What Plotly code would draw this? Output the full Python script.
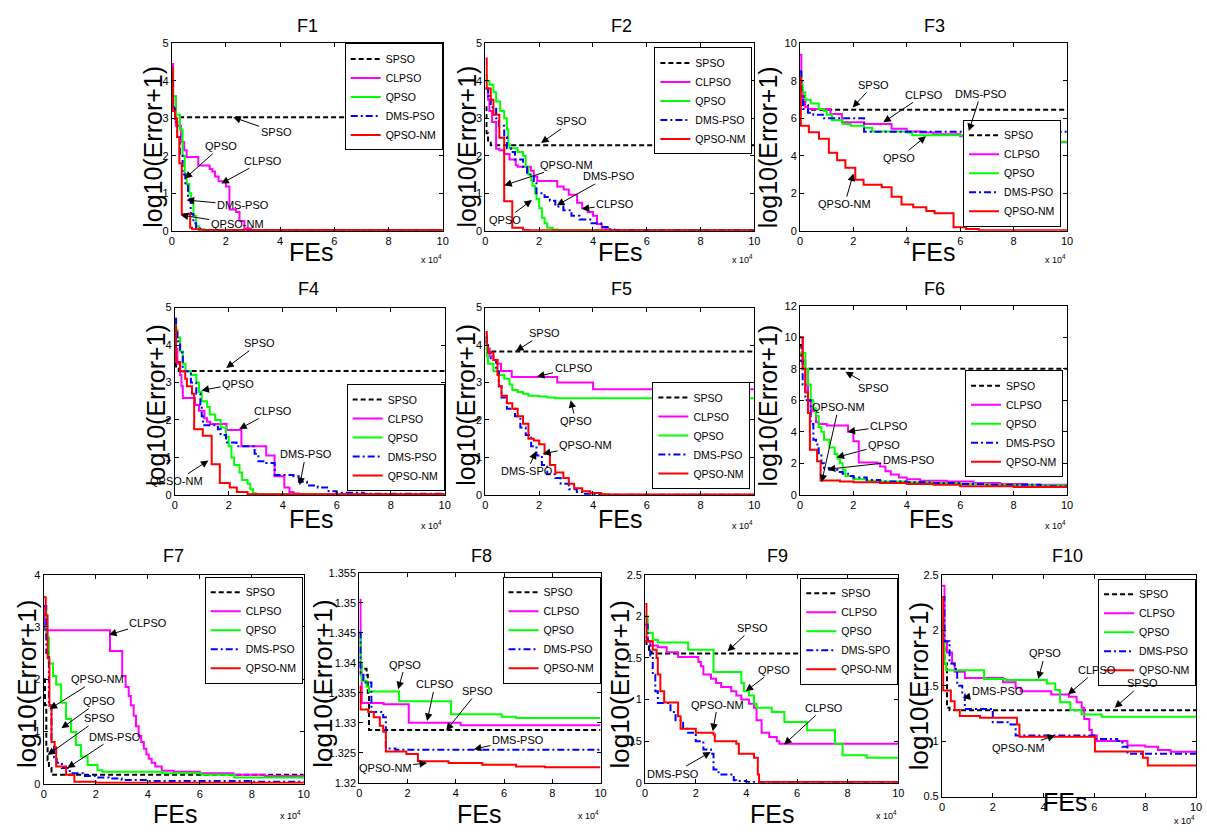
import plotly.graph_objects as go

W, H = 1207, 840
FONT = "Liberation Sans, Arial, sans-serif"

NAMES = ["SPSO", "CLPSO", "QPSO", "DMS-PSO", "QPSO-NM"]
NAMES_F9 = ["SPSO", "CLPSO", "QPSO", "DMS-SPO", "QPSO-NM"]
COLORS = ["#000000", "#FF00FF", "#00FF00", "#0000FF", "#FF0000"]
DASHES = ["5px,3px", "solid", "solid", "7px,3px,2px,3px", "solid"]

TITLES = ["F1", "F2", "F3", "F4", "F5", "F6", "F7", "F8", "F9", "F10"]
Y_RANGES = [[0, 5], [0, 5], [0, 10], [0, 5], [0, 5], [0, 12], [0, 4], [1.32, 1.355], [0, 2.5], [0.5, 2.5]]
Y_DTICKS = [1, 1, 2, 1, 1, 2, 1, 0.005, 0.5, 0.5]
X_TICKS = [0, 2, 4, 6, 8, 10]

# ---------------- data (x in units of 1e4 FEs, y = log10(Error+1)) ----------------
F1_SPSO_X = [0, 0.05, 0.12, 10]
F1_SPSO_Y = [3.9, 3.3, 3.03, 3.03]
F1_CLPSO_X = [0, 0.05, 0.15, 0.34, 0.46, 0.55, 0.98, 1.4, 1.5, 1.6, 1.73, 2.0, 2.13, 2.38, 2.5, 2.68, 2.93, 3.1, 10]
F1_CLPSO_Y = [4.45, 3.6, 2.8, 2.37, 2.15, 1.97, 1.74, 1.65, 1.58, 1.45, 1.32, 1.18, 0.57, 0.5, 0.26, 0.06, 0.02, 0.01, 0.01]
F1_QPSO_X = [0, 0.05, 0.15, 0.3, 0.4, 0.48, 0.55, 0.65, 0.72, 0.8, 0.9, 1.0, 1.2, 10]
F1_QPSO_Y = [4.3, 3.6, 3.1, 2.7, 2.0, 1.5, 1.25, 1.0, 0.75, 0.4, 0.12, 0.04, 0.01, 0.01]
F1_DMS_X = [0, 0.05, 0.12, 0.2, 0.3, 0.4, 0.5, 0.6, 0.7, 0.8, 0.9, 1.1, 10]
F1_DMS_Y = [4.0, 3.3, 2.9, 2.5, 2.0, 1.5, 1.2, 0.85, 0.45, 0.2, 0.06, 0.02, 0.01]
F1_NM_X = [0, 0.04, 0.12, 0.2, 0.28, 0.37, 0.68, 0.75, 1.0, 10]
F1_NM_Y = [4.35, 3.2, 3.0, 2.5, 1.8, 0.45, 0.08, 0.04, 0.02, 0.01]

F2_SPSO_X = [0, 0.04, 0.1, 0.2, 10]
F2_SPSO_Y = [3.3, 2.6, 2.35, 2.28, 2.28]
F2_CLPSO_X = [0, 0.1, 0.15, 0.25, 0.4, 0.52, 0.7, 0.9, 1.13, 1.2, 1.69, 1.8, 1.93, 2.67, 2.91, 3.1, 3.41, 3.6, 3.8, 4.0, 4.15, 4.33, 4.5, 4.65, 10]
F2_CLPSO_Y = [3.8, 3.5, 3.2, 2.9, 2.19, 2.15, 2.05, 1.9, 1.75, 1.71, 1.6, 1.45, 1.33, 1.18, 1.1, 0.96, 0.75, 0.61, 0.5, 0.4, 0.18, 0.08, 0.04, 0.01, 0.01]
F2_QPSO_X = [0, 0.05, 0.15, 0.3, 0.4, 0.55, 0.7, 0.8, 0.85, 0.9, 1.2, 1.4, 1.5, 1.6, 1.7, 1.75, 1.85, 1.9, 2.0, 2.1, 2.2, 2.3, 2.5, 2.7, 10]
F2_QPSO_Y = [4.15, 4.0, 3.9, 3.7, 3.45, 3.2, 3.0, 2.7, 2.3, 2.2, 2.1, 2.0, 1.7, 1.5, 1.35, 1.2, 1.0, 0.85, 0.6, 0.35, 0.2, 0.08, 0.03, 0.01, 0.01]
F2_DMS_X = [0, 0.1, 0.2, 0.4, 0.5, 0.7, 0.8, 0.95, 1.1, 1.4, 1.55, 1.8, 1.9, 2.2, 2.4, 2.6, 2.9, 3.2, 3.5, 3.9, 4.3, 4.6, 4.8, 10]
F2_DMS_Y = [3.8, 3.6, 3.3, 3.0, 2.8, 2.5, 2.2, 2.1, 1.9, 1.7, 1.5, 1.3, 1.0, 0.9, 0.8, 0.65, 0.55, 0.4, 0.3, 0.2, 0.1, 0.03, 0.01, 0.01]
F2_NM_X = [0, 0.05, 0.2, 0.3, 0.52, 0.7, 1.0, 1.4, 1.6, 10]
F2_NM_Y = [4.6, 3.8, 3.5, 3.1, 2.48, 0.79, 0.08, 0.02, 0.01, 0.01]

F3_SPSO_X = [0, 0.05, 0.15, 0.3, 10]
F3_SPSO_Y = [8.0, 7.2, 6.7, 6.46, 6.46]
F3_CLPSO_X = [0, 0.05, 0.1, 0.2, 0.3, 1.14, 1.57, 2.4, 3.43, 4.0, 4.5, 5.0, 6.0, 7.0, 8.0, 8.5, 9.0, 10]
F3_CLPSO_Y = [9.4, 7.5, 7.0, 6.6, 6.5, 6.23, 5.79, 5.7, 5.45, 5.3, 5.25, 5.15, 5.05, 4.97, 4.9, 4.8, 4.73, 4.7]
F3_QPSO_X = [0, 0.05, 0.1, 0.2, 0.4, 0.7, 0.9, 1.0, 1.2, 1.6, 1.9, 2.4, 2.7, 4.0, 4.2, 7.0, 7.5, 8.0, 8.5, 9.0, 10]
F3_QPSO_Y = [8.3, 7.8, 7.4, 7.0, 6.8, 6.5, 6.4, 6.2, 5.9, 5.7, 5.6, 5.5, 5.3, 5.25, 5.1, 5.05, 5.0, 4.95, 4.85, 4.75, 4.7]
F3_DMS_X = [0, 0.05, 0.1, 0.3, 0.5, 0.9, 2.4, 10]
F3_DMS_Y = [8.5, 7.0, 6.5, 6.3, 6.2, 6.0, 5.28, 5.28]
F3_NM_X = [0, 0.03, 0.33, 0.71, 1.08, 1.39, 1.7, 2.07, 2.38, 3.06, 3.43, 3.8, 4.24, 4.73, 5.04, 5.75, 6.22, 6.7, 10]
F3_NM_Y = [8.2, 5.6, 5.26, 4.91, 4.16, 3.77, 3.37, 2.72, 2.46, 2.32, 1.81, 1.4, 1.26, 1.05, 0.93, 0.18, 0.09, 0.02, 0.02]

F4_SPSO_X = [0, 0.05, 0.15, 10]
F4_SPSO_Y = [3.5, 3.4, 3.31, 3.31]
F4_CLPSO_X = [0, 0.05, 0.1, 0.2, 0.25, 0.3, 0.75, 0.9, 1.1, 1.2, 1.31, 1.92, 2.47, 3.39, 3.7, 4.06, 4.25, 4.4, 4.6, 4.8, 10]
F4_CLPSO_Y = [4.5, 3.9, 3.5, 3.2, 2.9, 2.59, 2.4, 2.25, 2.05, 1.95, 1.89, 1.73, 1.3, 1.05, 0.5, 0.2, 0.08, 0.04, 0.02, 0.01, 0.01]
F4_QPSO_X = [0, 0.05, 0.1, 0.2, 0.3, 0.4, 0.6, 0.8, 0.9, 1.0, 1.2, 1.3, 1.5, 1.7, 1.9, 2.0, 2.1, 2.2, 2.4, 2.5, 2.7, 2.8, 2.9, 3.0, 3.2, 10]
F4_QPSO_Y = [4.7, 4.4, 4.2, 3.83, 3.5, 3.3, 3.2, 3.0, 2.75, 2.5, 2.35, 2.15, 2.0, 1.8, 1.55, 1.3, 1.0, 0.8, 0.6, 0.4, 0.3, 0.15, 0.05, 0.02, 0.01, 0.01]
F4_DMS_X = [0, 0.05, 0.1, 0.2, 0.3, 0.6, 0.8, 0.95, 1.0, 1.05, 1.6, 1.7, 1.9, 2.29, 2.96, 3.1, 3.39, 3.7, 4.4, 4.6, 4.9, 5.3, 5.7, 6.0, 7.0, 10]
F4_DMS_Y = [4.7, 4.4, 4.1, 3.8, 3.3, 3.0, 2.7, 2.4, 2.1, 1.86, 1.75, 1.6, 1.4, 1.3, 1.1, 0.9, 0.85, 0.53, 0.5, 0.35, 0.25, 0.2, 0.1, 0.06, 0.03, 0.02]
F4_NM_X = [0, 0.05, 0.2, 0.39, 0.45, 0.64, 0.72, 1.04, 1.37, 1.67, 2.04, 2.3, 2.7, 10]
F4_NM_Y = [4.5, 3.55, 3.3, 3.1, 2.9, 2.7, 1.75, 1.58, 0.82, 0.32, 0.2, 0.08, 0.02, 0.01]

F5_SPSO_X = [0, 0.05, 0.15, 10]
F5_SPSO_Y = [4.1, 3.9, 3.83, 3.83]
F5_CLPSO_X = [0, 0.05, 0.15, 0.3, 0.45, 0.58, 0.98, 2.67, 4.0, 10]
F5_CLPSO_Y = [4.3, 3.9, 3.7, 3.6, 3.5, 3.31, 3.15, 3.0, 2.82, 2.82]
F5_QPSO_X = [0, 0.05, 0.1, 0.3, 0.5, 0.7, 0.9, 1.0, 1.2, 1.4, 1.6, 2.0, 2.3, 2.6, 10]
F5_QPSO_Y = [4.2, 3.7, 3.5, 3.3, 3.2, 3.1, 2.95, 2.8, 2.75, 2.7, 2.65, 2.63, 2.6, 2.58, 2.58]
F5_DMS_X = [0, 0.05, 0.1, 0.2, 0.4, 0.5, 0.6, 0.8, 1.1, 1.3, 1.5, 1.7, 1.9, 2.1, 2.3, 2.6, 2.8, 3.1, 3.4, 3.7, 4.0, 4.3, 10]
F5_DMS_Y = [4.2, 4.0, 3.8, 3.6, 3.3, 2.9, 2.6, 2.3, 2.1, 1.8, 1.6, 1.3, 1.05, 0.8, 0.55, 0.45, 0.3, 0.15, 0.08, 0.03, 0.01, 0.005, 0.005]
F5_NM_X = [0, 0.05, 0.1, 0.3, 0.45, 0.5, 0.6, 0.8, 1.0, 1.2, 1.4, 1.6, 1.8, 2.0, 2.2, 2.4, 2.6, 2.9, 3.1, 3.3, 3.6, 3.9, 4.3, 4.6, 10]
F5_NM_Y = [4.35, 4.0, 3.8, 3.6, 3.2, 2.9, 2.65, 2.45, 2.3, 2.1, 1.9, 1.5, 1.45, 1.35, 1.1, 0.8, 0.6, 0.45, 0.3, 0.18, 0.1, 0.05, 0.02, 0.01, 0.01]

F6_SPSO_X = [0, 0.05, 0.1, 10]
F6_SPSO_Y = [9.5, 8.5, 8.0, 8.0]
F6_CLPSO_X = [0, 0.1, 0.2, 0.3, 0.4, 0.5, 0.6, 0.7, 1.0, 1.8, 2.0, 2.2, 2.9, 3.0, 3.2, 3.4, 3.7, 4.0, 4.5, 5.5, 6.5, 7.5, 8.5, 10]
F6_CLPSO_Y = [10, 8.5, 7, 6, 5.4, 5.3, 4.6, 4.5, 4.4, 4.0, 3.4, 2.05, 2.0, 1.8, 1.5, 1.3, 1.1, 1.0, 0.9, 0.85, 0.75, 0.7, 0.65, 0.6]
F6_QPSO_X = [0, 0.2, 0.3, 0.4, 0.5, 0.6, 0.7, 0.8, 0.9, 1.1, 1.3, 1.4, 1.5, 1.6, 1.7, 2.0, 2.5, 3.0, 4.0, 5.0, 6.0, 7.0, 8.0, 10]
F6_QPSO_Y = [9, 8, 7, 6, 5.5, 5, 4.3, 4, 3.5, 3, 2.6, 2.3, 2, 1.6, 1.2, 1.0, 0.9, 0.85, 0.8, 0.75, 0.7, 0.65, 0.6, 0.6]
F6_DMS_X = [0, 0.1, 0.2, 0.4, 0.5, 0.6, 0.7, 0.8, 0.9, 1.1, 1.4, 1.6, 1.8, 2.0, 2.5, 3.0, 4.0, 5.0, 6.0, 7.0, 9.0, 10]
F6_DMS_Y = [8.5, 7, 6, 4.5, 3.5, 3.2, 2.5, 2.0, 1.7, 1.6, 1.45, 1.35, 1.2, 1.1, 0.95, 0.85, 0.8, 0.75, 0.7, 0.65, 0.55, 0.5]
F6_NM_X = [0, 0.1, 0.2, 0.3, 0.37, 0.64, 0.77, 1.5, 2.0, 3.0, 4.0, 5.0, 6.0, 8.0, 10]
F6_NM_Y = [10, 8, 6.5, 5.2, 2.87, 2.13, 0.92, 0.85, 0.8, 0.75, 0.7, 0.65, 0.55, 0.5, 0.45]

F7_SPSO_X = [0, 0.05, 0.1, 0.15, 0.2, 0.3, 10]
F7_SPSO_Y = [2.0, 1.5, 0.7, 0.45, 0.3, 0.17, 0.17]
F7_CLPSO_X = [0, 0.05, 2.55, 3.02, 3.15, 3.27, 3.35, 3.46, 3.55, 3.65, 3.75, 3.85, 3.95, 4.04, 4.15, 4.29, 4.54, 5.0, 6.0, 7.3, 8.5, 10]
F7_CLPSO_Y = [3.4, 2.94, 2.54, 2.06, 1.85, 1.68, 1.5, 1.3, 1.1, 0.92, 0.8, 0.67, 0.56, 0.48, 0.4, 0.33, 0.25, 0.23, 0.2, 0.17, 0.15, 0.14]
F7_QPSO_X = [0, 0.1, 0.2, 0.36, 0.48, 0.67, 0.86, 1.05, 1.24, 1.43, 1.69, 2.07, 2.26, 4.54, 6.07, 7.33, 10]
F7_QPSO_Y = [3.3, 2.8, 2.3, 2.06, 1.9, 1.55, 1.24, 0.99, 0.74, 0.52, 0.36, 0.26, 0.23, 0.2, 0.17, 0.12, 0.09]
F7_DMS_X = [0, 0.1, 0.2, 0.3, 0.4, 0.5, 0.7, 1.0, 1.5, 2.0, 2.5, 3.0, 4.0, 6.0, 8.0, 10]
F7_DMS_Y = [3.4, 2.5, 1.5, 0.8, 0.5, 0.4, 0.3, 0.2, 0.15, 0.12, 0.1, 0.07, 0.05, 0.05, 0.04, 0.04]
F7_NM_X = [0, 0.08, 0.15, 0.22, 0.3, 0.42, 0.48, 0.86, 1.18, 2.0, 10]
F7_NM_Y = [3.57, 3.22, 2.4, 1.49, 0.8, 0.7, 0.33, 0.17, 0.04, 0.02, 0.01]

F8_SPSO_X = [0, 0.1, 0.3, 0.35, 0.4, 10]
F8_SPSO_Y = [1.3395, 1.339, 1.338, 1.335, 1.3288, 1.3288]
F8_CLPSO_X = [0, 0.05, 0.1, 1.0, 2.05, 4.2, 10]
F8_CLPSO_Y = [1.3505, 1.338, 1.3333, 1.3331, 1.3300, 1.3296, 1.3296]
F8_QPSO_X = [0, 0.05, 0.1, 0.3, 0.4, 1.65, 3.8, 5.9, 6.5, 10]
F8_QPSO_Y = [1.345, 1.34, 1.337, 1.336, 1.3352, 1.3336, 1.3314, 1.3310, 1.3308, 1.3308]
F8_DMS_X = [0, 0.05, 0.17, 0.5, 0.99, 1.1, 1.5, 10]
F8_DMS_Y = [1.345, 1.338, 1.3367, 1.3318, 1.3309, 1.3257, 1.3255, 1.3255]
F8_NM_X = [0, 0.05, 0.37, 0.6, 0.85, 0.99, 1.1, 1.95, 2.43, 3.7, 5.1, 6.5, 7.7, 10]
F8_NM_Y = [1.336, 1.3322, 1.3318, 1.3309, 1.3295, 1.3285, 1.3252, 1.3248, 1.3236, 1.3233, 1.3230, 1.3227, 1.3226, 1.3226]

F9_SPSO_X = [0, 0.05, 0.15, 0.25, 10]
F9_SPSO_Y = [1.7, 1.65, 1.6, 1.555, 1.555]
F9_CLPSO_X = [0, 0.1, 0.2, 0.5, 0.85, 1.3, 2.1, 2.2, 2.3, 2.6, 2.8, 3.0, 3.4, 3.6, 3.8, 4.1, 4.3, 4.4, 4.6, 4.9, 5.2, 5.3, 10]
F9_CLPSO_Y = [1.75, 1.7, 1.65, 1.63, 1.57, 1.51, 1.45, 1.4, 1.3, 1.25, 1.2, 1.15, 1.1, 1.05, 1.0, 0.95, 0.9, 0.75, 0.6, 0.55, 0.5, 0.47, 0.47]
F9_QPSO_X = [0, 0.1, 0.3, 0.5, 1.7, 2.7, 3.8, 3.9, 4.1, 4.3, 4.4, 5.0, 5.5, 6.4, 7.5, 7.8, 8.75, 10]
F9_QPSO_Y = [2.0, 1.8, 1.72, 1.685, 1.6, 1.33, 1.2, 1.1, 1.05, 0.95, 0.9, 0.85, 0.73, 0.63, 0.47, 0.33, 0.3, 0.3]
F9_DMS_X = [0, 0.1, 0.2, 0.3, 0.4, 0.5, 1.0, 1.2, 1.5, 1.7, 2.0, 2.3, 2.6, 2.7, 2.9, 3.5, 3.6, 4.0, 5.0, 10]
F9_DMS_Y = [1.9, 1.7, 1.5, 1.3, 1.1, 0.96, 0.85, 0.75, 0.65, 0.6, 0.5, 0.4, 0.35, 0.16, 0.1, 0.03, 0.02, 0.01, 0.005, 0.005]
F9_NM_X = [0, 0.05, 0.3, 0.45, 0.5, 0.6, 0.75, 1.3, 1.4, 2.0, 2.7, 2.75, 3.6, 3.7, 4.3, 4.45, 4.5, 10]
F9_NM_Y = [2.15, 1.7, 1.6, 1.5, 1.3, 1.1, 0.965, 0.8, 0.65, 0.6, 0.58, 0.5, 0.47, 0.35, 0.3, 0.1, 0.01, 0.01]

F10_SPSO_X = [0, 0.1, 0.2, 0.3, 10]
F10_SPSO_Y = [1.9, 1.7, 1.3, 1.279, 1.279]
F10_CLPSO_X = [0, 0.1, 0.2, 0.4, 0.5, 0.9, 2.4, 2.9, 3.1, 4.3, 5.0, 5.3, 5.5, 5.6, 5.8, 5.9, 6.1, 7.3, 8.0, 8.5, 9.0, 10]
F10_CLPSO_Y = [2.4, 1.9, 1.8, 1.7, 1.626, 1.57, 1.53, 1.48, 1.45, 1.42, 1.4, 1.35, 1.3, 1.2, 1.1, 1.05, 1.0, 0.96, 0.95, 0.92, 0.905, 0.905]
F10_QPSO_X = [0, 0.05, 0.1, 0.16, 1.66, 2.5, 4.13, 4.46, 4.65, 5.05, 5.5, 6.28, 10]
F10_QPSO_Y = [2.1, 1.9, 1.7, 1.64, 1.56, 1.55, 1.52, 1.46, 1.35, 1.28, 1.24, 1.22, 1.21]
F10_DMS_X = [0, 0.1, 0.3, 0.5, 0.6, 0.8, 0.9, 2.0, 2.7, 2.9, 6.0, 6.9, 7.1, 7.3, 10]
F10_DMS_Y = [2.3, 1.9, 1.7, 1.65, 1.5, 1.42, 1.29, 1.17, 1.15, 1.05, 1.02, 1.0, 0.95, 0.885, 0.885]
F10_NM_X = [0, 0.05, 0.35, 0.5, 0.7, 1.5, 2.95, 3.05, 6.02, 7.91, 8.1, 10]
F10_NM_Y = [2.3, 1.457, 1.36, 1.28, 1.226, 1.21, 1.15, 1.04, 0.906, 0.85, 0.78, 0.78]

PANELS = [
    [(F1_SPSO_X, F1_SPSO_Y), (F1_CLPSO_X, F1_CLPSO_Y), (F1_QPSO_X, F1_QPSO_Y), (F1_DMS_X, F1_DMS_Y), (F1_NM_X, F1_NM_Y)],
    [(F2_SPSO_X, F2_SPSO_Y), (F2_CLPSO_X, F2_CLPSO_Y), (F2_QPSO_X, F2_QPSO_Y), (F2_DMS_X, F2_DMS_Y), (F2_NM_X, F2_NM_Y)],
    [(F3_SPSO_X, F3_SPSO_Y), (F3_CLPSO_X, F3_CLPSO_Y), (F3_QPSO_X, F3_QPSO_Y), (F3_DMS_X, F3_DMS_Y), (F3_NM_X, F3_NM_Y)],
    [(F4_SPSO_X, F4_SPSO_Y), (F4_CLPSO_X, F4_CLPSO_Y), (F4_QPSO_X, F4_QPSO_Y), (F4_DMS_X, F4_DMS_Y), (F4_NM_X, F4_NM_Y)],
    [(F5_SPSO_X, F5_SPSO_Y), (F5_CLPSO_X, F5_CLPSO_Y), (F5_QPSO_X, F5_QPSO_Y), (F5_DMS_X, F5_DMS_Y), (F5_NM_X, F5_NM_Y)],
    [(F6_SPSO_X, F6_SPSO_Y), (F6_CLPSO_X, F6_CLPSO_Y), (F6_QPSO_X, F6_QPSO_Y), (F6_DMS_X, F6_DMS_Y), (F6_NM_X, F6_NM_Y)],
    [(F7_SPSO_X, F7_SPSO_Y), (F7_CLPSO_X, F7_CLPSO_Y), (F7_QPSO_X, F7_QPSO_Y), (F7_DMS_X, F7_DMS_Y), (F7_NM_X, F7_NM_Y)],
    [(F8_SPSO_X, F8_SPSO_Y), (F8_CLPSO_X, F8_CLPSO_Y), (F8_QPSO_X, F8_QPSO_Y), (F8_DMS_X, F8_DMS_Y), (F8_NM_X, F8_NM_Y)],
    [(F9_SPSO_X, F9_SPSO_Y), (F9_CLPSO_X, F9_CLPSO_Y), (F9_QPSO_X, F9_QPSO_Y), (F9_DMS_X, F9_DMS_Y), (F9_NM_X, F9_NM_Y)],
    [(F10_SPSO_X, F10_SPSO_Y), (F10_CLPSO_X, F10_CLPSO_Y), (F10_QPSO_X, F10_QPSO_Y), (F10_DMS_X, F10_DMS_Y), (F10_NM_X, F10_NM_Y)],
]

# arrow labels: (text, head x, head y, text x, text y) in data units
F1_NOTES = [("SPSO", 2.27, 3.03, 3.85, 2.63), ("QPSO", 0.48, 1.39, 1.83, 2.26), ("CLPSO", 1.83, 1.26, 3.37, 1.87),
            ("DMS-PSO", 0.55, 0.82, 2.63, 0.68), ("QPSO-NM", 0.33, 0.42, 2.42, 0.18)]
F2_NOTES = [("SPSO", 2.07, 2.34, 3.21, 2.92), ("QPSO-NM", 0.70, 1.21, 3.03, 1.76), ("DMS-PSO", 2.66, 0.68, 4.58, 1.45),
            ("CLPSO", 3.58, 0.58, 4.83, 0.71), ("QPSO", 1.73, 0.82, 0.74, 0.29)]
F3_NOTES = [("SPSO", 1.97, 6.58, 2.75, 7.79), ("CLPSO", 3.12, 5.79, 4.65, 7.26), ("DMS-PSO", 6.32, 5.32, 6.77, 7.3),
            ("QPSO", 4.72, 5.05, 3.72, 3.89), ("QPSO-NM", 2.0, 3.05, 1.67, 1.42)]
F4_NOTES = [("SPSO", 1.91, 3.39, 3.13, 4.05), ("QPSO", 0.99, 2.79, 2.35, 2.97), ("CLPSO", 2.39, 1.76, 3.64, 2.24),
            ("DMS-PSO", 4.63, 0.26, 4.85, 1.08), ("QPSO-NM", 1.25, 0.92, 0.07, 0.37)]
F5_NOTES = [("SPSO", 1.14, 3.84, 2.18, 4.32), ("CLPSO", 1.92, 3.16, 3.28, 3.39), ("QPSO", 3.17, 2.53, 3.36, 1.97),
            ("QPSO-NM", 2.14, 1.1, 3.73, 1.32), ("DMS-SPO", 1.88, 1.16, 1.55, 0.63)]
F6_NOTES = [("SPSO", 1.7, 7.81, 2.74, 6.81), ("QPSO-NM", 0.81, 0.81, 1.44, 5.56), ("CLPSO", 1.78, 4.0, 3.33, 4.38),
            ("QPSO", 1.37, 2.38, 3.15, 3.19), ("DMS-PSO", 1.04, 1.63, 4.07, 2.19)]
F7_NOTES = [("CLPSO", 2.51, 2.85, 4.03, 3.08), ("QPSO-NM", 0.23, 1.43, 2.05, 2.0), ("QPSO", 0.68, 1.06, 2.13, 1.58),
            ("SPSO", 0.15, 0.55, 2.13, 1.25), ("DMS-PSO", 0.91, 0.3, 2.74, 0.9)]
F8_NOTES = [("QPSO", 1.61, 1.3356, 1.9, 1.3397), ("CLPSO", 2.81, 1.3303, 3.14, 1.3364), ("SPSO", 3.6, 1.3287, 4.92, 1.3353),
            ("DMS-PSO", 4.75, 1.3256, 6.57, 1.3272), ("QPSO-NM", 2.81, 1.3233, 1.07, 1.3225)]
F9_NOTES = [("SPSO", 3.25, 1.58, 4.24, 1.86), ("QPSO", 3.97, 1.1, 5.1, 1.36), ("CLPSO", 5.49, 0.46, 7.06, 0.9),
            ("QPSO-NM", 2.67, 0.62, 2.86, 0.94), ("DMS-PSO", 2.59, 0.37, 1.1, 0.11)]
F10_NOTES = [("QPSO", 3.79, 1.56, 4.06, 1.79), ("CLPSO", 4.96, 1.42, 6.09, 1.64), ("SPSO", 6.8, 1.3, 7.89, 1.52),
             ("DMS-PSO", 0.82, 1.39, 2.19, 1.45), ("QPSO-NM", 4.45, 1.05, 3.0, 0.94)]
NOTES = [F1_NOTES, F2_NOTES, F3_NOTES, F4_NOTES, F5_NOTES, F6_NOTES, F7_NOTES, F8_NOTES, F9_NOTES, F10_NOTES]

# ---------------- layout geometry (pixels) ----------------
BOXES = [(170, 443, 38, 228), (486, 757, 38, 228), (803, 1072, 38, 228),
         (173, 445, 306, 496), (486, 757, 306, 496), (803, 1072, 304, 496),
         (41, 303, 577, 789), (359, 602, 575, 788), (647, 902, 577, 788), (946, 1202, 577, 802)]
LEGENDS = [(443, 38, "top"), (755, 42, "top"), (1066, 224, "bottom"),
           (445, 492, "bottom"), (753, 490, "bottom"), (1068, 478, "bottom"),
           (302, 579, "top"), (602, 579, "top"), (902, 580, "top"), (1202, 581, "top")]
TITLE_POS = [(307, 20), (623, 20), (938, 20), (308, 287), (623, 287), (938, 287),
             (172, 558), (482, 558), (780, 558), (1072, 558)]
YLAB_POS = [(151, 143), (467, 143), (771, 143), (154, 405), (467, 405), (771, 405),
            (24, 688), (323, 688), (622, 688), (923, 690)]
XLAB_POS = [(310, 250), (622, 250), (937, 250), (310, 520), (622, 520), (935, 520),
            (173, 820), (480, 820), (775, 820), (1070, 808)]
EXP_POS = [(432, 257), (745, 257), (1060, 257), (432, 527), (745, 527), (1060, 527),
           (290, 821), (590, 821), (890, 821), (1190, 826)]


def px(x):
    return x / W


def py(y):
    return 1 - y / H


fig = go.Figure()
annotations = []
layout = dict(
    width=W, height=H, margin=dict(l=0, r=0, t=0, b=0),
    paper_bgcolor="white", plot_bgcolor="white",
    font=dict(family=FONT, size=11, color="black"),
)

for i in range(10):
    k = "" if i == 0 else str(i + 1)
    xa, ya = "x" + k, "y" + k
    leg = "legend" + k
    names = NAMES_F9 if i == 8 else NAMES
    for j, (xs, ys) in enumerate(PANELS[i]):
        fig.add_trace(go.Scatter(
            x=xs, y=ys, mode="lines", name=names[j], xaxis=xa, yaxis=ya, legend=leg,
            line=dict(color=COLORS[j], width=2, dash=DASHES[j], shape="hv"),
            hoverinfo="skip",
        ))
    l, r, t, b = BOXES[i]
    common = dict(showline=True, linecolor="black", linewidth=1, mirror="ticks", ticks="inside",
                  ticklen=4, tickcolor="black", showgrid=False, zeroline=False,
                  tickfont=dict(family=FONT, size=11, color="black"))
    layout["xaxis" + k] = dict(domain=[px(l), px(r)], anchor=ya, range=[0, 10], tickvals=X_TICKS, **common)
    layout["yaxis" + k] = dict(domain=[py(b), py(t)], anchor=xa, range=Y_RANGES[i],
                               dtick=Y_DTICKS[i], tick0=Y_RANGES[i][0], **common)
    lx, ly, anc = LEGENDS[i]
    layout[leg] = dict(x=px(lx), y=py(ly), xanchor="right", yanchor=anc, bgcolor="white",
                       bordercolor="black", borderwidth=1, font=dict(family=FONT, size=10.5, color="black"),
                       itemwidth=30, tracegroupgap=0)
    tx, ty = TITLE_POS[i]
    annotations.append(dict(text=TITLES[i], x=px(tx), y=py(ty), xref="paper", yref="paper", showarrow=False,
                            font=dict(family=FONT, size=18, color="black"), xanchor="center", yanchor="middle"))
    yx, yy = YLAB_POS[i]
    annotations.append(dict(text="log10(Error+1)", x=px(yx), y=py(yy), xref="paper", yref="paper", showarrow=False,
                            textangle=-90, font=dict(family=FONT, size=25 if i < 6 else 26, color="black"),
                            xanchor="center", yanchor="middle"))
    fx, fy = XLAB_POS[i]
    annotations.append(dict(text="FEs", x=px(fx), y=py(fy), xref="paper", yref="paper", showarrow=False,
                            font=dict(family=FONT, size=25, color="black"), xanchor="center", yanchor="middle"))
    ex, ey = EXP_POS[i]
    annotations.append(dict(text="x 10<sup>4</sup>", x=px(ex), y=py(ey), xref="paper", yref="paper", showarrow=False,
                            font=dict(family=FONT, size=9, color="black"), xanchor="center", yanchor="middle"))
    for (txt, hx, hy, tx2, ty2) in NOTES[i]:
        annotations.append(dict(text=txt, x=hx, y=hy, xref=xa, yref=ya, ax=tx2, ay=ty2, axref=xa, ayref=ya,
                                showarrow=True, arrowhead=2, arrowsize=1.5, arrowwidth=1, arrowcolor="black",
                                standoff=0, startstandoff=0,
                                font=dict(family=FONT, size=11, color="black")))

layout["annotations"] = annotations
fig.update_layout(**layout)

fig.write_html("out.html", config={"displayModeBar": False},
               post_script="document.body.style.margin='0';document.body.style.overflow='hidden';")
